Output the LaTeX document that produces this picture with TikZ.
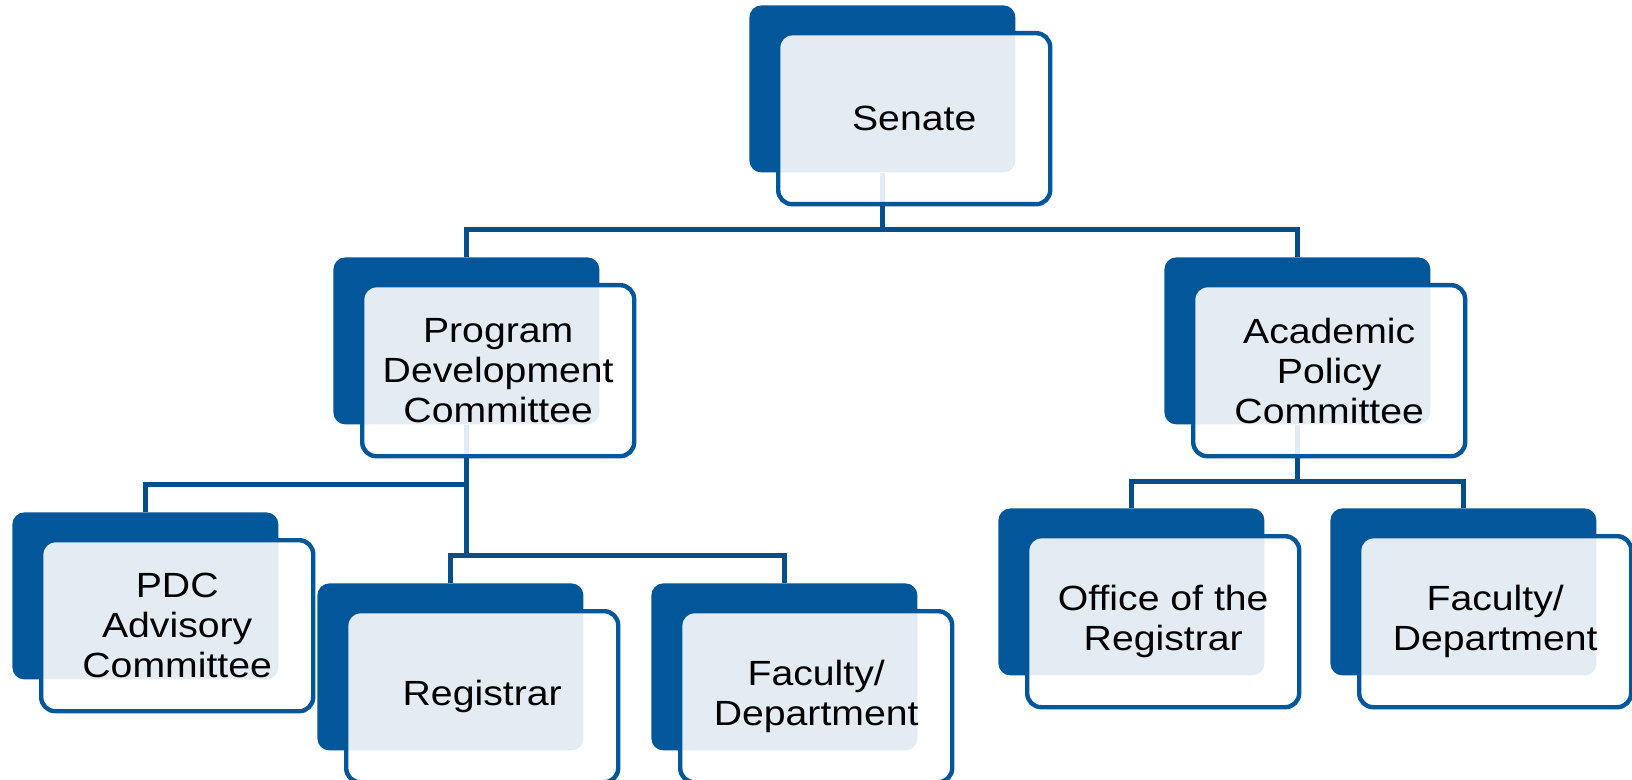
\documentclass[tikz,border=0pt]{standalone}
\usepackage{fontspec}
\setmainfont{Liberation Sans}[FakeStretch=1.12]
\usepackage{tikz}
\usetikzlibrary{backgrounds}
\definecolor{boxblue}{HTML}{02569A}
\definecolor{lineblue}{HTML}{054E8A}

\begin{document}
\begin{tikzpicture}[x=0.5pt, y=-0.5pt,
		back/.style={fill=boxblue, rounded corners=6pt, minimum width=133pt, minimum height=83.5pt, inner sep=0pt, anchor=north west},
		front/.style={draw=boxblue, line width=2.2pt, fill=white, fill opacity=0.89, text opacity=1, rounded corners=7pt, minimum width=136pt, minimum height=85.5pt, inner sep=0pt, align=center, anchor=north west, font=\fontsize{17.5}{20}\selectfont},
		link/.style={draw=lineblue, line width=2.5pt}]
						\useasboundingbox (0,0) rectangle (1632,780);
						
						\node[back] (senateb) at (749,5) {};
						\node[front] (senate) at (776,31) {Senate};
						
						\node[back] (pdcb) at (333,257) {};
						\node[front] (pdc) at (360,283) {Program\\Development\\Committee};
						
						\node[back] (apcb) at (1164,257) {};
						\node[front] (apc) at (1191,283) {Academic\\Policy\\Committee};
						
						\node[back] (advb) at (12,512) {};
						\node[front] (adv) at (39,538) {PDC\\Advisory\\Committee};
						
						\node[back] (regb) at (317,583) {};
						\node[front] (reg) at (344,609) {Registrar};
						
						\node[back] (facab) at (651,583) {};
						\node[front] (faca) at (678,609) {Faculty/\\Department};
						
						\node[back] (offb) at (998,508) {};
						\node[front] (off) at (1025,534) {Office of the\\Registrar};
						
						\node[back] (facbb) at (1330,508) {};
						\node[front] (facb) at (1357,534) {Faculty/\\Department};
						
						\begin{scope}[on background layer]
							\draw[link] (senateb.south) -- ++(0,57) -| (pdcb.north);
							\draw[link] (senateb.south) -- ++(0,57) -| (apcb.north);
							\draw[link] (pdcb.south) -- ++(0,60) -| (advb.north);
							\draw[link] (pdcb.south) -- ++(0,131) -| (regb.north);
							\draw[link] (pdcb.south) -- ++(0,131) -| (facab.north);
							\draw[link] (apcb.south) -- ++(0,57) -| (offb.north);
							\draw[link] (apcb.south) -- ++(0,57) -| (facbb.north);
						\end{scope}
					\end{tikzpicture}
\end{document}
